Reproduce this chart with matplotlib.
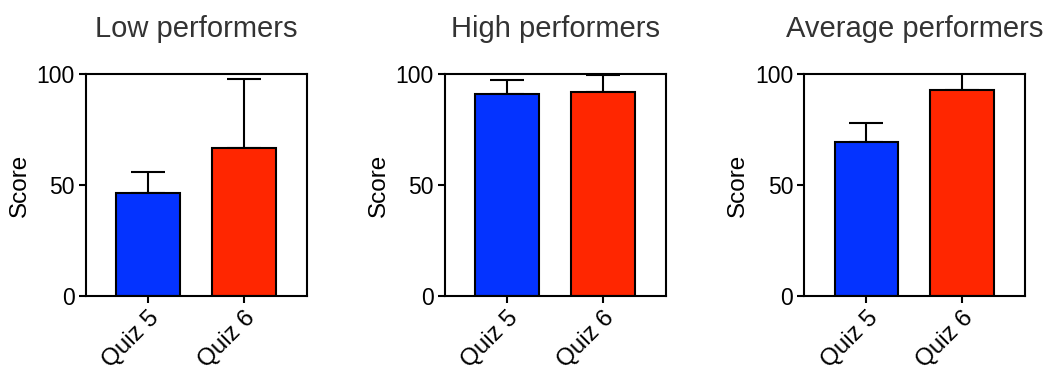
import matplotlib
matplotlib.use("Agg")
import matplotlib.pyplot as plt

plt.rcParams['font.family'] = ['Liberation Sans', 'DejaVu Sans']

groups = ['Low performers', 'High performers', 'Average performers']
quizzes = ['Quiz 5', 'Quiz 6']
means = [[46.3, 66.5], [90.9, 91.9], [69.2, 92.6]]
errors = [[9.7, 31.2], [6.4, 7.5], [8.7, 9.0]]
bar_colors = ['#0433FF', '#FF2600']

fig = plt.figure(figsize=(10.49, 3.71), dpi=100)
lefts = [0.082, 0.4242, 0.7667]

for g, left in enumerate(lefts):
    ax = fig.add_axes([left, 0.2022, 0.2107, 0.5983])
    x = range(len(quizzes))
    ax.bar(x, means[g], width=0.665, color=bar_colors, edgecolor='black',
           linewidth=1.5, zorder=2)
    ax.errorbar(x, means[g], yerr=[[0, 0], errors[g]], fmt='none',
                ecolor='black', elinewidth=1.5, capsize=12, capthick=1.5,
                zorder=1)
    ax.set_xlim(-0.65, 1.66)
    ax.set_ylim(0, 100)
    ax.set_yticks([0, 50, 100])
    ax.set_xticks(list(x))
    ax.set_xticklabels(quizzes, rotation=45, ha='right', rotation_mode='anchor')
    ax.tick_params(axis='both', width=1.5, length=5, pad=3)
    ax.tick_params(axis='y', labelsize=16.5)
    ax.tick_params(axis='x', labelsize=17.5)
    for s in ax.spines.values():
        s.set_linewidth(1.5)
    ax.set_ylabel('Score', fontsize=17.5)
    ax.set_title(groups[g], fontsize=21, color='#333333', pad=27)

fig.savefig('out.png', dpi=100)
